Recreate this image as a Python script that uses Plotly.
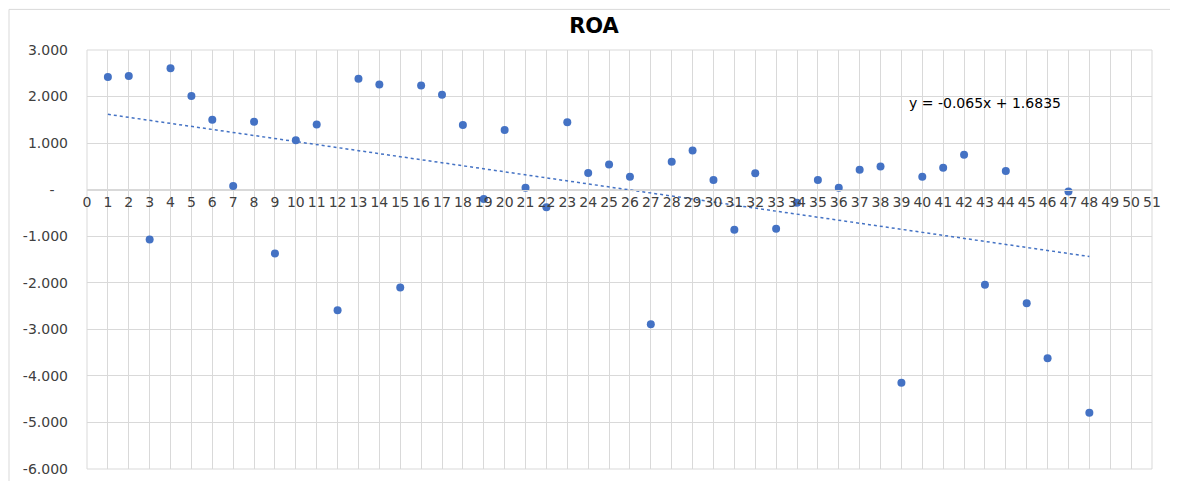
import plotly.graph_objects as go

obs = list(range(1, 49))
roa = [2.42, 2.44, -1.07, 2.61, 2.01, 1.50, 0.08, 1.46, -1.37, 1.06,
       1.40, -2.59, 2.38, 2.26, -2.10, 2.24, 2.04, 1.39, -0.20, 1.28,
       0.04, -0.38, 1.45, 0.36, 0.54, 0.28, -2.89, 0.60, 0.84, 0.21,
       -0.86, 0.35, -0.84, -0.28, 0.21, 0.04, 0.43, 0.50, -4.15, 0.28,
       0.47, 0.75, -2.04, 0.40, -2.44, -3.62, -0.04, -4.79]

# linear trendline as printed on the chart
slope = -0.065
intercept = 1.6835

y_ticks = [3, 2, 1, 0, -1, -2, -3, -4, -5, -6]
y_labels = ["3.000", "2.000", "1.000", "-&nbsp;&nbsp;&nbsp;", "-1.000", "-2.000",
            "-3.000", "-4.000", "-5.000", "-6.000"]
x_ticks = list(range(0, 52))

BLUE = "#4472C4"
GRID = "#d9d9d9"
FONT = "DejaVu Sans"

trend_x = [obs[0], obs[-1]]
trend_y = [slope * x + intercept for x in trend_x]

fig = go.Figure()
fig.add_trace(go.Scatter(
    x=trend_x, y=trend_y,
    mode="lines",
    line=dict(color=BLUE, width=1.5, dash="dot"),
    hoverinfo="skip",
))
fig.add_trace(go.Scatter(
    x=obs, y=roa,
    mode="markers",
    marker=dict(color=BLUE, size=8),
    name="ROA",
))

# the page body adds 8px, so margins are shifted to land the plot at 87..1152 / 50..473
fig.update_layout(
    width=1178, height=481,
    margin=dict(l=79, r=34, t=42, b=16),
    paper_bgcolor="white",
    plot_bgcolor="white",
    showlegend=False,
    title=dict(text="<b>ROA</b>", x=586 / 1178, xanchor="center",
               y=1 - 18 / 481, yanchor="middle",
               font=dict(family=FONT, size=21, color="#000000")),
    font=dict(family=FONT, color="#404040"),
    xaxis=dict(
        range=[0, 51], tickvals=x_ticks, ticktext=[str(v) for v in x_ticks],
        showgrid=True, gridcolor=GRID, gridwidth=1,
        zeroline=False, showline=True, linecolor=GRID,
        anchor="free", position=6 / 9,
        ticks="", tickfont=dict(family=FONT, size=14, color="#404040"),
        tickangle=0,
    ),
    yaxis=dict(
        range=[-6, 3], tickvals=y_ticks, ticktext=y_labels,
        showgrid=True, gridcolor=GRID, gridwidth=1,
        zeroline=False, showline=False,
        ticks="", ticklabelstandoff=18,
        tickfont=dict(family=FONT, size=14, color="#404040"),
    ),
    shapes=[
        # plot area frame
        dict(type="rect", xref="paper", yref="paper", x0=0, x1=1, y0=0, y1=1,
             line=dict(color=GRID, width=1), layer="below"),
        # chart area border
        dict(type="rect", xref="paper", yref="paper",
             x0=-78 / 1065, x1=1.1, y0=-0.1, y1=1 + 41 / 423,
             line=dict(color="#d9d9d9", width=1), layer="below"),
    ],
    annotations=[
        dict(x=43, y=1.87, xref="x", yref="y", text="y = -0.065x + 1.6835",
             showarrow=False, font=dict(family=FONT, size=14, color="#000000")),
    ],
)

fig.write_html("out.html")
